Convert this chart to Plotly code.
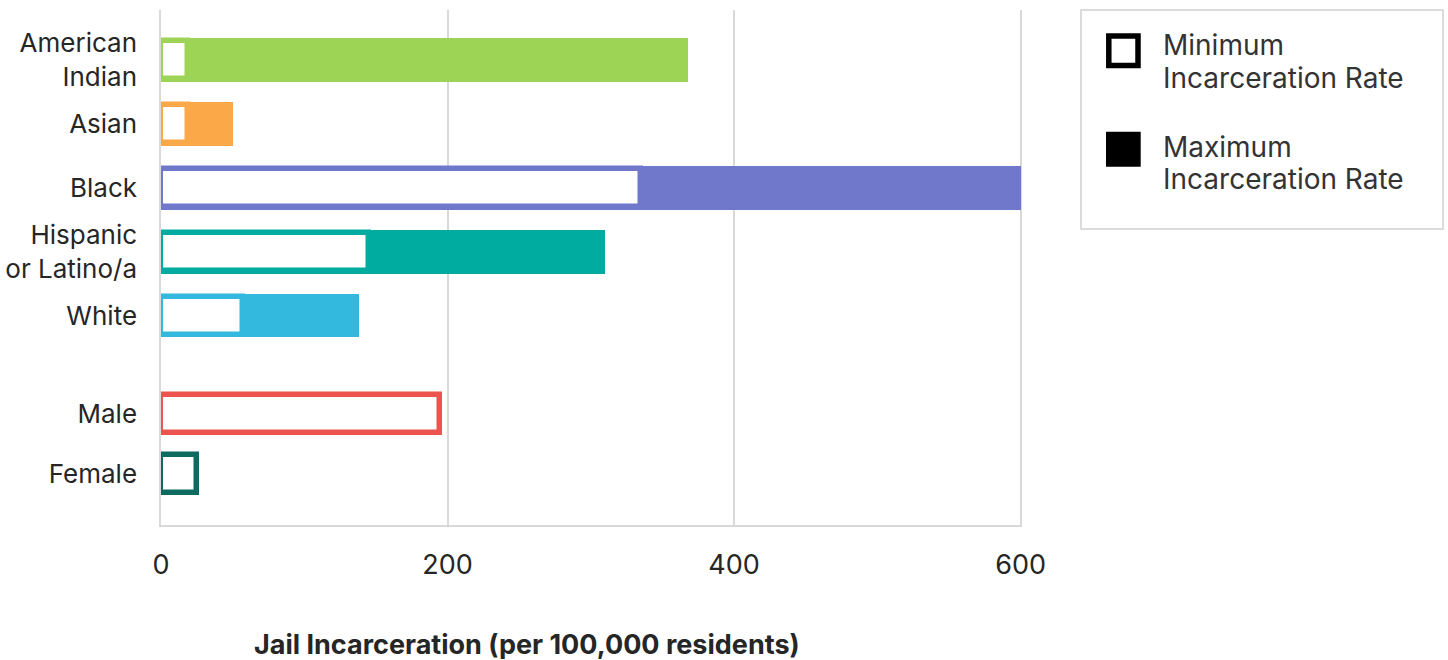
import plotly.graph_objects as go

# Jail incarceration rates per 100,000 residents, by race/ethnicity and by sex
race_groups = ["American<br>Indian", "Asian", "Black", "Hispanic<br>or Latino/a", "White"]
race_min = [19, 19, 335, 145, 57]
race_max = [368, 50, 600, 310, 138]

sex_groups = ["Male", "Female"]
sex_min = [195, 25]

x_ticks = [0, 200, 400, 600]

# styling
race_colors = ["#9ED456", "#FBA848", "#7078CB", "#00AB9F", "#33B8DE"]
sex_colors = ["#EC544D", "#0D6B5F"]
FONT = "Inter"
TEXT = "#262626"
GRID = "#d9d9d9"

W, H = 1448, 660
L, R, T, B = 161, 426, 10, 135
PW, PH = W - L - R, H - T - B


def px_x(px):
    return (px - L) / PW


def px_y(py):
    return (H - B - py) / PH


split = px_y(365)
x_range = [0, 601]

fig = go.Figure()

# race / ethnicity panel: filled maximum bar with outlined minimum bar on top
fig.add_trace(go.Bar(
    y=race_groups, x=race_max, orientation="h", width=0.68,
    marker=dict(color=race_colors, line=dict(width=0)),
    xaxis="x2", yaxis="y2", showlegend=False, hoverinfo="x+y",
))
fig.add_trace(go.Bar(
    y=race_groups, x=race_min, orientation="h", width=0.594,
    marker=dict(color="white", line=dict(color=race_colors, width=5.5)),
    xaxis="x2", yaxis="y2", showlegend=False, hoverinfo="x+y",
))

# sex panel: minimum rate only
fig.add_trace(go.Bar(
    y=sex_groups, x=sex_min, orientation="h", width=0.63,
    marker=dict(color="white", line=dict(color=sex_colors, width=5.5)),
    xaxis="x", yaxis="y", showlegend=False, hoverinfo="x+y",
))

y_font = dict(family=FONT, size=26, color=TEXT)
x_font = dict(family=FONT, size=27, color=TEXT)

fig.update_layout(
    width=W, height=H,
    margin=dict(l=L, r=R, t=T, b=B, pad=0, autoexpand=False),
    paper_bgcolor="white", plot_bgcolor="white",
    barmode="overlay", bargap=0,
    showlegend=False,
    xaxis=dict(
        domain=[0, 1], anchor="y", range=x_range, tickvals=x_ticks,
        showgrid=True, gridcolor=GRID, gridwidth=1.5, zeroline=False,
        showline=True, linecolor=GRID, linewidth=1.5, automargin=False,
        ticks="", tickfont=x_font, ticklabelstandoff=15,
    ),
    xaxis2=dict(
        domain=[0, 1], anchor="y2", matches="x", range=x_range, tickvals=x_ticks,
        showgrid=True, gridcolor=GRID, gridwidth=1.5, zeroline=False,
        showline=False, showticklabels=False, ticks="", automargin=False,
    ),
    yaxis=dict(
        domain=[0, split], anchor="x", type="category", range=[1.855, -0.81],
        showgrid=False, zeroline=False, showline=True, linecolor=GRID, linewidth=1.5,
        ticks="", tickfont=y_font, ticklabelstandoff=17, automargin=False,
    ),
    yaxis2=dict(
        domain=[split, 1], anchor="x2", type="category", range=[4.77, -0.778],
        showgrid=False, zeroline=False, showline=True, linecolor=GRID, linewidth=1.5,
        ticks="", tickfont=y_font, ticklabelstandoff=17, automargin=False,
    ),
)

# legend box drawn with shapes and text
shapes = [
    dict(type="rect", xref="paper", yref="paper",
         x0=px_x(1081), x1=px_x(1443), y0=px_y(229), y1=px_y(10),
         line=dict(color="#d0d0d0", width=1.5), fillcolor="white", layer="below"),
    dict(type="rect", xref="paper", yref="paper",
         x0=px_x(1108.8), x1=px_x(1138), y0=px_y(65.6), y1=px_y(36),
         line=dict(color="black", width=5.5), fillcolor="white"),
    dict(type="rect", xref="paper", yref="paper",
         x0=px_x(1106), x1=px_x(1140.7), y0=px_y(166.7), y1=px_y(131.7),
         line=dict(width=0), fillcolor="black"),
]

legend_font = dict(family=FONT, size=28, color="#333333")
legend_lines = [("Minimum", 45), ("Incarceration Rate", 78),
                ("Maximum", 146.5), ("Incarceration Rate", 179)]
annotations = [
    dict(text=txt, xref="paper", yref="paper",
         x=px_x(1161), y=px_y(yc), xanchor="left", yanchor="middle",
         align="left", showarrow=False, font=legend_font)
    for txt, yc in legend_lines
]
annotations.append(
    dict(text="<b>Jail Incarceration (per 100,000 residents)</b>",
         xref="paper", yref="paper", x=px_x(527), y=px_y(644),
         xanchor="center", yanchor="middle", showarrow=False, height=30,
         font=dict(family=FONT, size=27, color=TEXT))
)

fig.update_layout(shapes=shapes, annotations=annotations)

fig.write_html("out.html")
